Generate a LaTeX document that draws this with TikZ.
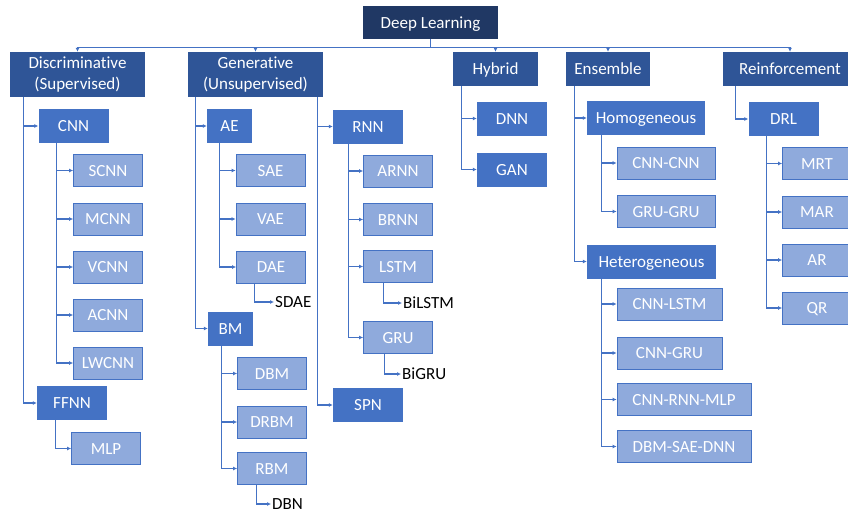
\documentclass[tikz,border=0pt]{standalone}
\usepackage{fontspec}
\setmainfont{Carlito}[Ligatures={NoCommon}]
\usetikzlibrary{arrows.meta}
\definecolor{dlc}{HTML}{203864}
\definecolor{lonec}{HTML}{2F5597}
\definecolor{ltwoc}{HTML}{4472C4}
\definecolor{lthreef}{HTML}{8FAADC}
\definecolor{lnc}{HTML}{4472C4}
\begin{document}
\begin{tikzpicture}[x=1pt,y=-1pt,
  box/.style={inner sep=0pt, text=white, font=\fontsize{17}{21}\selectfont, align=center},
  sline/.style={text height=11pt, text depth=0pt},
  topbox/.style={box, sline, fill=dlc, minimum width=135pt, minimum height=33pt},
  ltwoline/.style={box, fill=lonec, minimum width=135pt, minimum height=45pt},
  lone/.style={box, sline, fill=lonec, minimum height=34pt},
  ltwo/.style={box, sline, fill=ltwoc, minimum height=34pt, minimum width=70pt},
  lthree/.style={box, sline, fill=lthreef, draw=ltwoc, line width=0.8pt, minimum height=32pt, minimum width=69pt},
  conn/.style={draw=lnc, line width=1.2pt},
  arr/.style={conn, -{Latex[length=4pt,width=4pt]}},
  lbl/.style={font=\fontsize{17}{21}\selectfont, sline, text=black, anchor=west, inner sep=1pt}]
\useasboundingbox (0,0) rectangle (848,514);

% top
\node[topbox] (dl) at (430.5,22.5) {Deep Learning};
% level 1
\node[ltwoline] (disc) at (77.5,74.5) {Discriminative\\(Supervised)};
\node[ltwoline] (gen) at (255.5,74.5) {Generative\\(Unsupervised)};
\node[lone, minimum width=85pt] (hyb) at (495.5,69) {Hybrid};
\node[lone, minimum width=84pt] (ens) at (608,69) {Ensemble};
\node[lone, minimum width=135pt] (rein) at (790,69) {Reinforcement};

% level 2
\node[ltwo] (cnn) at (73.5,126) {CNN};
\node[ltwo] (ffnn) at (72,403) {FFNN};
\node[ltwo, minimum width=45pt] (ae) at (229.5,126) {AE};
\node[ltwo, minimum width=45pt] (bm) at (230.5,328.5) {BM};
\node[ltwo] (rnn) at (368,126.5) {RNN};
\node[ltwo] (spn) at (368,405) {SPN};
\node[ltwo] (dnn) at (512,118.5) {DNN};
\node[ltwo] (gan) at (512,169.5) {GAN};
\node[ltwo, minimum width=118pt] (homo) at (646,118) {Homogeneous};
\node[ltwo, minimum width=129pt] (hete) at (651.5,261.5) {Heterogeneous};
\node[ltwo] (drl) at (783.5,119) {DRL};

% level 3
\node[lthree] (scnn) at (108,170.5) {SCNN};
\node[lthree] (mcnn) at (108,219) {MCNN};
\node[lthree] (vcnn) at (108,267) {VCNN};
\node[lthree] (acnn) at (108,315) {ACNN};
\node[lthree] (lwcnn) at (108,363) {LWCNN};
\node[lthree] (mlp) at (106,448.5) {MLP};
\node[lthree] (sae) at (270.5,170.5) {SAE};
\node[lthree] (vae) at (270.5,219) {VAE};
\node[lthree] (dae) at (271,267) {DAE};
\node[lthree] (dbm) at (272,373.5) {DBM};
\node[lthree] (drbm) at (272,422) {DRBM};
\node[lthree] (rbm) at (272,468.5) {RBM};
\node[lthree] (arnn) at (398,171) {ARNN};
\node[lthree] (brnn) at (398,219.5) {BRNN};
\node[lthree] (lstm) at (398,266.5) {LSTM};
\node[lthree] (gru) at (398,337.5) {GRU};
\node[lthree, minimum width=98pt] (cc) at (666,163) {CNN-CNN};
\node[lthree, minimum width=98pt] (gg) at (666,211.5) {GRU-GRU};
\node[lthree, minimum width=105pt] (cl) at (669.5,304) {CNN-LSTM};
\node[lthree, minimum width=105pt] (cg) at (669.5,353) {CNN-GRU};
\node[lthree, minimum width=134pt] (crm) at (684,399.5) {CNN-RNN-MLP};
\node[lthree, minimum width=134pt] (dsd) at (684,446.5) {DBM-SAE-DNN};
\node[lthree] (mrt) at (817,163.5) {MRT};
\node[lthree] (mar) at (817,212) {MAR};
\node[lthree] (ar) at (817,260) {AR};
\node[lthree] (qr) at (817,308) {QR};

% plain labels
\node[lbl] (sdae) at (274,302) {SDAE};
\node[lbl] (dbn) at (271,504) {DBN};
\node[lbl] (bilstm) at (402,303) {BiLSTM};
\node[lbl] (bigru) at (401,374) {BiGRU};

% top connectors
\draw[conn] (dl.south) -- ++(0,8) coordinate (hub);
\draw[conn] (hub -| disc.north) -- (hub -| rein.north);
\foreach \n in {disc,gen,hyb,ens,rein} \draw[arr] (hub -| \n.north) -- (\n.north);

% discriminative
\foreach \n in {cnn,ffnn} \draw[arr] (disc.south west) ++(14,0) |- (\n.west);
\foreach \n in {scnn,mcnn,vcnn,acnn,lwcnn} \draw[arr] (cnn.south west) ++(18,0) |- (\n.west);
\draw[arr] (ffnn.south west) ++(19,0) |- (mlp.west);

% generative
\foreach \n in {ae,bm} \draw[arr] (gen.south west) ++(8,0) |- (\n.west);
\foreach \n in {rnn,spn} \draw[arr] (gen.south east) ++(-6,0) |- (\n.west);
\foreach \n in {sae,vae,dae} \draw[arr] (ae.south west) ++(13,0) |- (\n.west);
\draw[arr] (dae.south west) ++(18,0) |- (sdae.west);
\foreach \n in {dbm,drbm,rbm} \draw[arr] (bm.south west) ++(14,0) |- (\n.west);
\draw[arr] (rbm.south west) ++(19,0) |- (dbn.west);
\foreach \n in {arnn,brnn,lstm,gru} \draw[arr] (rnn.south west) ++(16,0) |- (\n.west);
\draw[arr] (lstm.south west) ++(20,0) |- (bilstm.west);
\draw[arr] (gru.south west) ++(21,0) |- (bigru.west);

% hybrid
\foreach \n in {dnn,gan} \draw[arr] (hyb.south west) ++(9,0) |- (\n.west);

% ensemble
\foreach \n in {homo,hete} \draw[arr] (ens.south west) ++(9,0) |- (\n.west);
\foreach \n in {cc,gg} \draw[arr] (homo.south west) ++(15,0) |- (\n.west);
\foreach \n in {cl,cg,crm,dsd} \draw[arr] (hete.south west) ++(15,0) |- (\n.west);

% reinforcement
\draw[arr] (rein.south west) ++(13,0) |- (drl.west);
\foreach \n in {mrt,mar,ar,qr} \draw[arr] (drl.south west) ++(18,0) |- (\n.west);
\end{tikzpicture}
\end{document}
